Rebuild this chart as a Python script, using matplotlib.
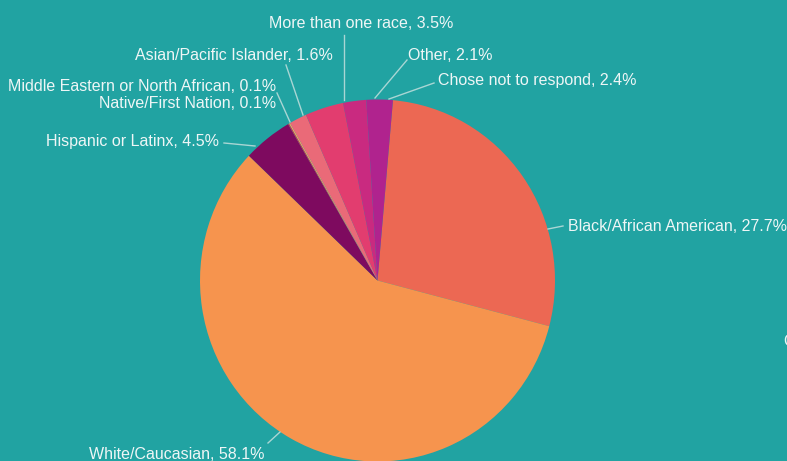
import matplotlib
matplotlib.use("Agg")
import matplotlib.pyplot as plt

# slices, clockwise from just right of 12 o'clock
categories = [
    "Black/African American",
    "White/Caucasian",
    "Hispanic or Latinx",
    "Native/First Nation",
    "Middle Eastern or North African",
    "Asian/Pacific Islander",
    "More than one race",
    "Other",
    "Chose not to respond",
]
shares = [27.7, 58.1, 4.5, 0.1, 0.1, 1.6, 3.5, 2.1, 2.4]
colors = ["#ec6853", "#f6944e", "#7e0a5f", "#c2384f", "#f7a95e",
          "#ea6a78", "#e23d6f", "#c92a80", "#b0238e"]

BG = "#21a3a2"
TXT = "#eef6f6"
LINE = "#a9d6d4"
FS = 11.5

W, H = 787, 461
CX, CY, RX, RY = 377.5, 280.5, 177.5, 181.0


def px(x, y):
    # screen pixel -> data coords (pie has radius 1 at origin)
    return (x - CX) / RX, (CY - y) / RY


fig = plt.figure(figsize=(W / 100, H / 100), dpi=100, facecolor=BG)
ax = fig.add_axes([0, 0, 1, 1])
ax.set_facecolor(BG)

ax.pie(shares, colors=colors, startangle=85, counterclock=False,
       radius=1.0, center=(0, 0), wedgeprops=dict(linewidth=0))
ax.set_aspect("auto")
ax.set_xlim(px(0, 0)[0], px(W, 0)[0])
ax.set_ylim(px(0, H)[1], px(0, 0)[1])
ax.axis("off")

# label layout: (anchor x, baseline y, ha) in screen pixels
label_pos = {
    "Black/African American": (568, 231, "left"),
    "White/Caucasian": (265, 459, "right"),
    "Hispanic or Latinx": (219, 146, "right"),
    "Native/First Nation": (276, 108, "right"),
    "Middle Eastern or North African": (276, 91, "right"),
    "Asian/Pacific Islander": (333, 60, "right"),
    "More than one race": (269, 28, "left"),
    "Other": (408, 60, "left"),
    "Chose not to respond": (438, 85, "left"),
}
# leader lines: label end -> pie rim, screen pixels
leaders = {
    "Black/African American": [(563, 226), (548, 229)],
    "White/Caucasian": [(268, 443), (280, 432)],
    "Hispanic or Latinx": [(224, 143), (255, 146)],
    "Middle Eastern or North African": [(277, 93), (290, 122)],
    "Asian/Pacific Islander": [(286, 65), (303, 115)],
    "More than one race": [(344, 35), (344, 100)],
    "Other": [(407, 60), (375, 98)],
    "Chose not to respond": [(434, 83), (389, 99)],
}

for cat, val in zip(categories, shares):
    x, y, ha = label_pos[cat]
    ax.text(*px(x, y), f"{cat}, {val}%", ha=ha, va="baseline",
            color=TXT, fontsize=FS, family="Liberation Sans")
    if cat in leaders:
        (x0, y0), (x1, y1) = leaders[cat]
        p0, p1 = px(x0, y0), px(x1, y1)
        ax.plot([p0[0], p1[0]], [p0[1], p1[1]], color=LINE, lw=1.0)

# clipped label peeking in at the right edge, as in the source
ax.text(*px(783, 346), "C", ha="left", va="baseline", color=TXT,
        fontsize=FS, family="Liberation Sans", clip_on=False)

fig.savefig("out.png", dpi=100, facecolor=BG)
